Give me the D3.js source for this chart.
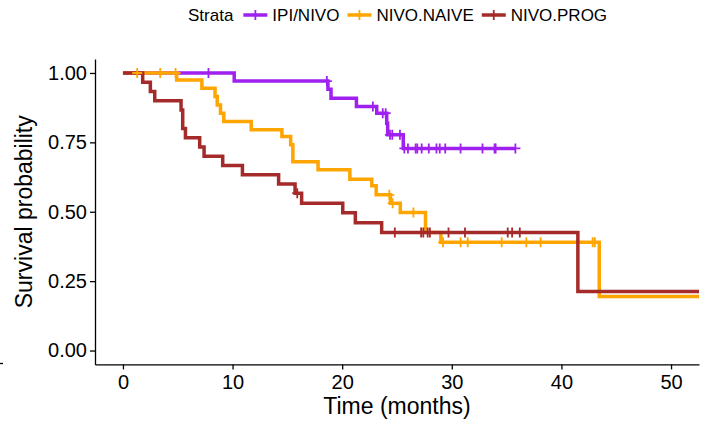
<!DOCTYPE html>
<html>
<head>
<meta charset="utf-8">
<script src="https://cdn.jsdelivr.net/npm/d3@7"></script>
<style>
  html, body { margin: 0; padding: 0; background: #fff; }
  svg { display: block; font-family: "Liberation Sans", Arial, sans-serif; }
</style>
</head>
<body>
<svg id="chart" width="709" height="426"></svg>
<script>
// Kaplan–Meier overall survival by treatment stratum

const strata = ["IPI/NIVO", "NIVO.NAIVE", "NIVO.PROG"];

// step times (months) and survival probability after each step
const ipiTime = [0, 10.15, 18.7, 18.98, 21.3, 23.15, 24.06, 24.15, 25.57, 35.8];
const ipiSurv = [1, 0.971, 0.941, 0.909, 0.879, 0.855, 0.819, 0.777, 0.728, 0.728];
const ipiCensor = [7.8, 18.6, 22.8, 23.7, 23.97, 24.36, 24.57, 25.27, 25.67, 26.0, 26.7,
                   26.85, 27.25, 27.9, 28.6, 28.9, 29.4, 30.8, 32.8, 33.9, 34.0, 35.8];

const naiveTime = [0, 4.9, 7.2, 8.4, 8.6, 8.9, 9.2, 11.7, 14.5, 15.3, 15.5, 17.8, 20.7,
                   22.7, 23.1, 24.4, 25.3, 27.6, 29.0, 43.45, 52.55];
const naiveSurv = [1, 0.975, 0.945, 0.915, 0.885, 0.855, 0.825, 0.795, 0.771, 0.741, 0.68,
                   0.651, 0.617, 0.594, 0.561, 0.531, 0.497, 0.425, 0.39, 0.195, 0.195];
const naiveCensor = [1.3, 3.4, 4.8, 24.3, 24.6, 26.5, 29.2, 30.8, 31.45, 34.55, 36.8,
                     38.1, 42.85, 43.05];

const progTime = [0, 1.8, 2.5, 2.9, 5.3, 5.45, 5.7, 7.0, 7.4, 9.1, 10.9, 14.2, 15.7,
                  16.3, 20.05, 21.2, 23.6, 41.5, 52.55];
const progSurv = [1, 0.967, 0.933, 0.9, 0.867, 0.8, 0.767, 0.733, 0.7, 0.667, 0.633,
                  0.6, 0.567, 0.531, 0.496, 0.46, 0.425, 0.2125, 0.2125];
const progCensor = [15.9, 24.8, 27.2, 27.4, 27.8, 28.0, 29.7, 31.2, 35.1, 35.5, 36.2];

const xTicks = [0, 10, 20, 30, 40, 50];
const yTicks = [0, 0.25, 0.5, 0.75, 1];

const palette = ["#A020F0", "#FFA500", "#A52A2A"];

const curves = [
  { name: strata[0], time: ipiTime, surv: ipiSurv, censor: ipiCensor, color: palette[0] },
  { name: strata[1], time: naiveTime, surv: naiveSurv, censor: naiveCensor, color: palette[1] },
  { name: strata[2], time: progTime, surv: progSurv, censor: progCensor, color: palette[2] }
];

const svg = d3.select("#chart");

const x = d3.scaleLinear().domain([-2.55, 52.55]).range([95, 699]);
const y = d3.scaleLinear().domain([-0.05, 1.05]).range([364.4, 59.1]);

// survival value in effect at time t
function survAt(c, t) {
  let s = c.surv[0];
  for (let i = 0; i < c.time.length; i++) {
    if (c.time[i] <= t) s = c.surv[i];
  }
  return s;
}

const line = d3.line()
  .x(d => x(d[0]))
  .y(d => y(d[1]))
  .curve(d3.curveStepAfter);

const plot = svg.append("g");

curves.forEach(c => {
  const pts = c.time.map((t, i) => [t, c.surv[i]]);
  plot.append("path")
    .attr("d", line(pts))
    .attr("fill", "none")
    .attr("stroke", c.color)
    .attr("stroke-width", 3.5)
    .attr("stroke-linejoin", "miter")
    .attr("stroke-linecap", "butt");
});

// censoring marks drawn above all curves
const plusHalf = 5;
curves.forEach(c => {
  c.censor.forEach(t => {
    const cx = x(t), cy = y(survAt(c, t));
    plot.append("path")
      .attr("d", `M${cx - plusHalf},${cy}H${cx + plusHalf}M${cx},${cy - plusHalf}V${cy + plusHalf}`)
      .attr("stroke", c.color)
      .attr("stroke-width", 1.8)
      .attr("fill", "none");
  });
});

// axes
const xAxis = d3.axisBottom(x).tickValues(xTicks).tickSize(5).tickSizeOuter(0).tickPadding(5);
const yAxis = d3.axisLeft(y).tickValues(yTicks).tickFormat(d3.format(".2f"))
  .tickSize(5).tickSizeOuter(0).tickPadding(3);

const gx = svg.append("g").attr("transform", `translate(0,${y(-0.05)})`).call(xAxis);
const gy = svg.append("g").attr("transform", `translate(${x(-2.55)},0)`).call(yAxis);

[gx, gy].forEach(g => {
  g.select(".domain").attr("stroke", "#000").attr("stroke-width", 1.3);
  g.selectAll(".tick line").attr("stroke", "#000").attr("stroke-width", 1.3);
  g.selectAll(".tick text")
    .attr("fill", "#000")
    .style("font-size", "20px")
    .style("font-family", "'Liberation Sans', Arial, sans-serif");
});

// axis titles
svg.append("text")
  .attr("x", (x.range()[0] + x.range()[1]) / 2)
  .attr("y", 414)
  .attr("text-anchor", "middle")
  .style("font-size", "23px")
  .attr("fill", "#000")
  .text("Time (months)");

svg.append("text")
  .attr("transform", `translate(32,${(y(0) + y(1)) / 2}) rotate(-90)`)
  .attr("text-anchor", "middle")
  .style("font-size", "23px")
  .attr("fill", "#000")
  .text("Survival probability");

// small stray tick at the lower-left margin
svg.append("path").attr("d", "M0,363.5H3").attr("stroke", "#000").attr("stroke-width", 1.3);

// legend
const legend = svg.append("g").style("font-size", "17px");
const legY = 15;
const title = legend.append("text")
  .attr("x", 188).attr("y", legY).attr("dy", "0.35em")
  .attr("fill", "#000").text("Strata");
let cursor = 188 + title.node().getComputedTextLength() + 10;

curves.forEach(c => {
  const kx = cursor, kw = 24;
  legend.append("path")
    .attr("d", `M${kx},${legY}H${kx + kw}`)
    .attr("stroke", c.color).attr("stroke-width", 3.5);
  legend.append("path")
    .attr("d", `M${kx + kw / 2},${legY - plusHalf}V${legY + plusHalf}`)
    .attr("stroke", c.color).attr("stroke-width", 1.8);
  const t = legend.append("text")
    .attr("x", kx + kw + 5).attr("y", legY).attr("dy", "0.35em")
    .attr("fill", "#000").text(c.name);
  cursor = kx + kw + 5 + t.node().getComputedTextLength() + 8;
});
</script>
</body>
</html>
